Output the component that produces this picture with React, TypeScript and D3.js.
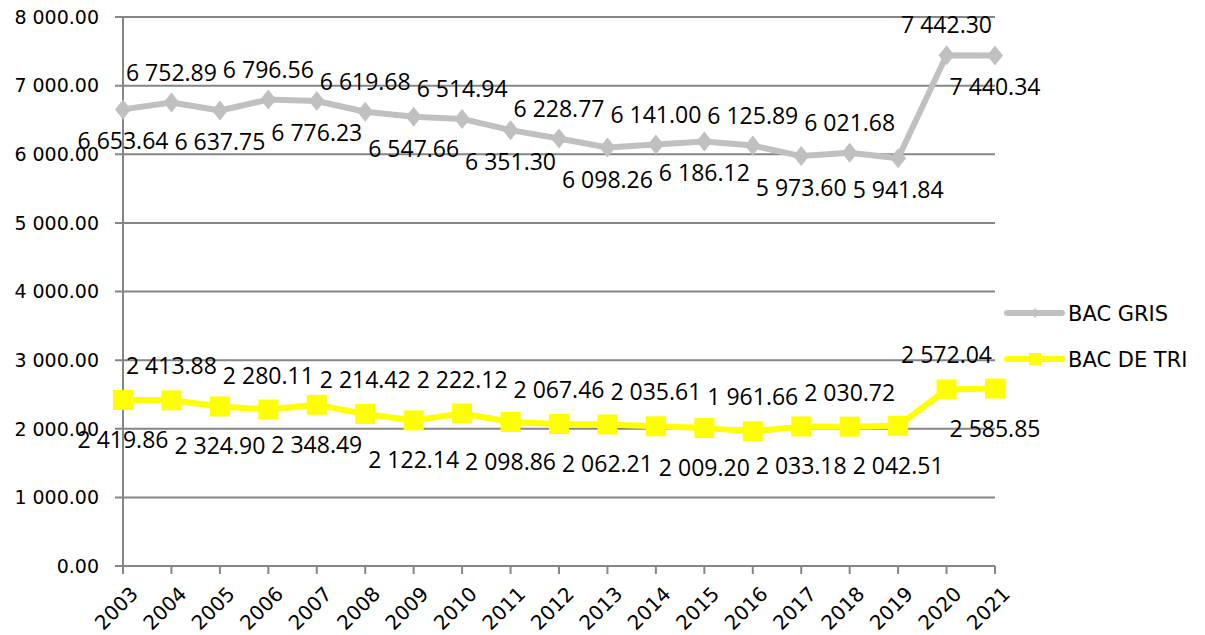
import React, { useRef, useEffect } from 'react';
import * as d3 from 'd3';

const years = ['2003', '2004', '2005', '2006', '2007', '2008', '2009', '2010', '2011', '2012',
  '2013', '2014', '2015', '2016', '2017', '2018', '2019', '2020', '2021'];

const bacGris = [6653.64, 6752.89, 6637.75, 6796.56, 6776.23, 6619.68, 6547.66, 6514.94, 6351.30, 6228.77,
  6098.26, 6141.00, 6186.12, 6125.89, 5973.60, 6021.68, 5941.84, 7442.30, 7440.34];

const bacDeTri = [2419.86, 2413.88, 2324.90, 2280.11, 2348.49, 2214.42, 2122.14, 2222.12, 2098.86, 2067.46,
  2062.21, 2035.61, 2009.20, 1961.66, 2033.18, 2030.72, 2042.51, 2572.04, 2585.85];

const yTicks = [0, 1000, 2000, 3000, 4000, 5000, 6000, 7000, 8000];

// 6 752.89 style
const fmt = (v: number) => {
  const s = v.toFixed(2);
  const [int, dec] = s.split('.');
  return int.replace(/\B(?=(\d{3})+(?!\d))/g, ' ') + '.' + dec;
};

const App = () => {
  const svgRef = useRef<SVGSVGElement>(null);

  useEffect(() => {
    const width = 1205;
    const height = 635;
    const left = 123, right = 995, top = 17, bottom = 566;
    const gridColor = '#868686';
    const axisFont = "'DejaVu Sans', sans-serif";
    const labelFont = "'Open Sans', sans-serif";

    const svg = d3.select(svgRef.current)
      .attr('width', width)
      .attr('height', height);
    svg.selectAll('*').remove();

    const x = d3.scalePoint<string>().domain(years).range([left, right]);
    const y = d3.scaleLinear().domain([0, 8000]).range([bottom, top]);

    // gridlines + y ticks
    svg.append('g')
      .selectAll('line')
      .data(yTicks)
      .join('line')
        .attr('x1', left - 8)
        .attr('x2', right)
        .attr('y1', d => y(d))
        .attr('y2', d => y(d))
        .attr('stroke', gridColor)
        .attr('stroke-width', 2);

    svg.append('g')
      .attr('font-family', axisFont)
      .attr('font-size', 19)
      .attr('text-anchor', 'end')
      .selectAll('text')
      .data(yTicks)
      .join('text')
        .attr('x', left - 24)
        .attr('y', d => y(d))
        .attr('dy', '0.36em')
        .text(d => fmt(d));

    // y axis line
    svg.append('line')
      .attr('x1', left).attr('x2', left)
      .attr('y1', top).attr('y2', bottom)
      .attr('stroke', gridColor).attr('stroke-width', 2);

    // x ticks
    svg.append('g')
      .selectAll('line')
      .data(years)
      .join('line')
        .attr('x1', d => x(d)!)
        .attr('x2', d => x(d)!)
        .attr('y1', bottom)
        .attr('y2', bottom + 8)
        .attr('stroke', gridColor)
        .attr('stroke-width', 2);

    svg.append('g')
      .attr('font-family', axisFont)
      .attr('font-size', 20)
      .attr('text-anchor', 'end')
      .selectAll('text')
      .data(years)
      .join('text')
        .attr('transform', d => `translate(${x(d)! + 6},${bottom + 19}) rotate(-45)`)
        .attr('dy', '0.72em')
        .text(d => d);

    const line = d3.line<number>()
      .x((_, i) => x(years[i])!)
      .y(d => y(d));

    const series = [
      { name: 'BAC GRIS', values: bacGris, color: '#c0c0c0', marker: 'diamond', above: -22, below: 40 },
      { name: 'BAC DE TRI', values: bacDeTri, color: '#ffff00', marker: 'square', above: -26, below: 48 },
    ];

    const diamond = (s: number, h: number) => `M0,${-h}L${s},0L0,${h}L${-s},0Z`;

    series.forEach(s => {
      const g = svg.append('g');
      g.append('path')
        .attr('d', line(s.values))
        .attr('fill', 'none')
        .attr('stroke', s.color)
        .attr('stroke-width', 6)
        .attr('stroke-linejoin', 'round');

      if (s.marker === 'diamond') {
        g.selectAll('path.m')
          .data(s.values)
          .join('path')
            .attr('class', 'm')
            .attr('d', diamond(8, 10))
            .attr('transform', (d, i) => `translate(${x(years[i])},${y(d)})`)
            .attr('fill', s.color);
      } else {
        g.selectAll('rect.m')
          .data(s.values)
          .join('rect')
            .attr('class', 'm')
            .attr('x', (_, i) => x(years[i])! - 10)
            .attr('y', d => y(d) - 10)
            .attr('width', 20)
            .attr('height', 20)
            .attr('fill', s.color);
      }

      g.append('g')
        .attr('font-family', labelFont)
        .attr('font-size', 23)
        .attr('text-anchor', 'middle')
        .selectAll('text')
        .data(s.values)
        .join('text')
          .attr('x', (_, i) => x(years[i])!)
          .attr('y', (d, i) => y(d) + (i % 2 === 1 ? s.above : s.below))
          .attr('fill', '#000')
          .text(d => fmt(d));
    });

    // legend
    const legend = svg.append('g').attr('font-family', '"Comic Sans MS", "DejaVu Sans", sans-serif').attr('font-size', 21);
    series.forEach((s, i) => {
      const ly = 313 + i * 46;
      const lg = legend.append('g');
      lg.append('line')
        .attr('x1', 1007).attr('x2', 1062)
        .attr('y1', ly).attr('y2', ly)
        .attr('stroke', s.color).attr('stroke-width', 6).attr('stroke-linecap', 'round');
      if (s.marker === 'diamond') {
        lg.append('path').attr('d', diamond(4, 5)).attr('transform', `translate(1035,${ly})`).attr('fill', s.color);
      } else {
        lg.append('rect').attr('x', 1029).attr('y', ly - 6).attr('width', 12).attr('height', 12).attr('fill', s.color);
      }
      lg.append('text')
        .attr('x', 1068).attr('y', ly).attr('dy', '0.36em')
        .text(s.name);
    });
  }, []);

  return (
    <div style={{ position: 'absolute', left: 0, top: 0 }}>
      <svg ref={svgRef} />
    </div>
  );
};

export default App;
